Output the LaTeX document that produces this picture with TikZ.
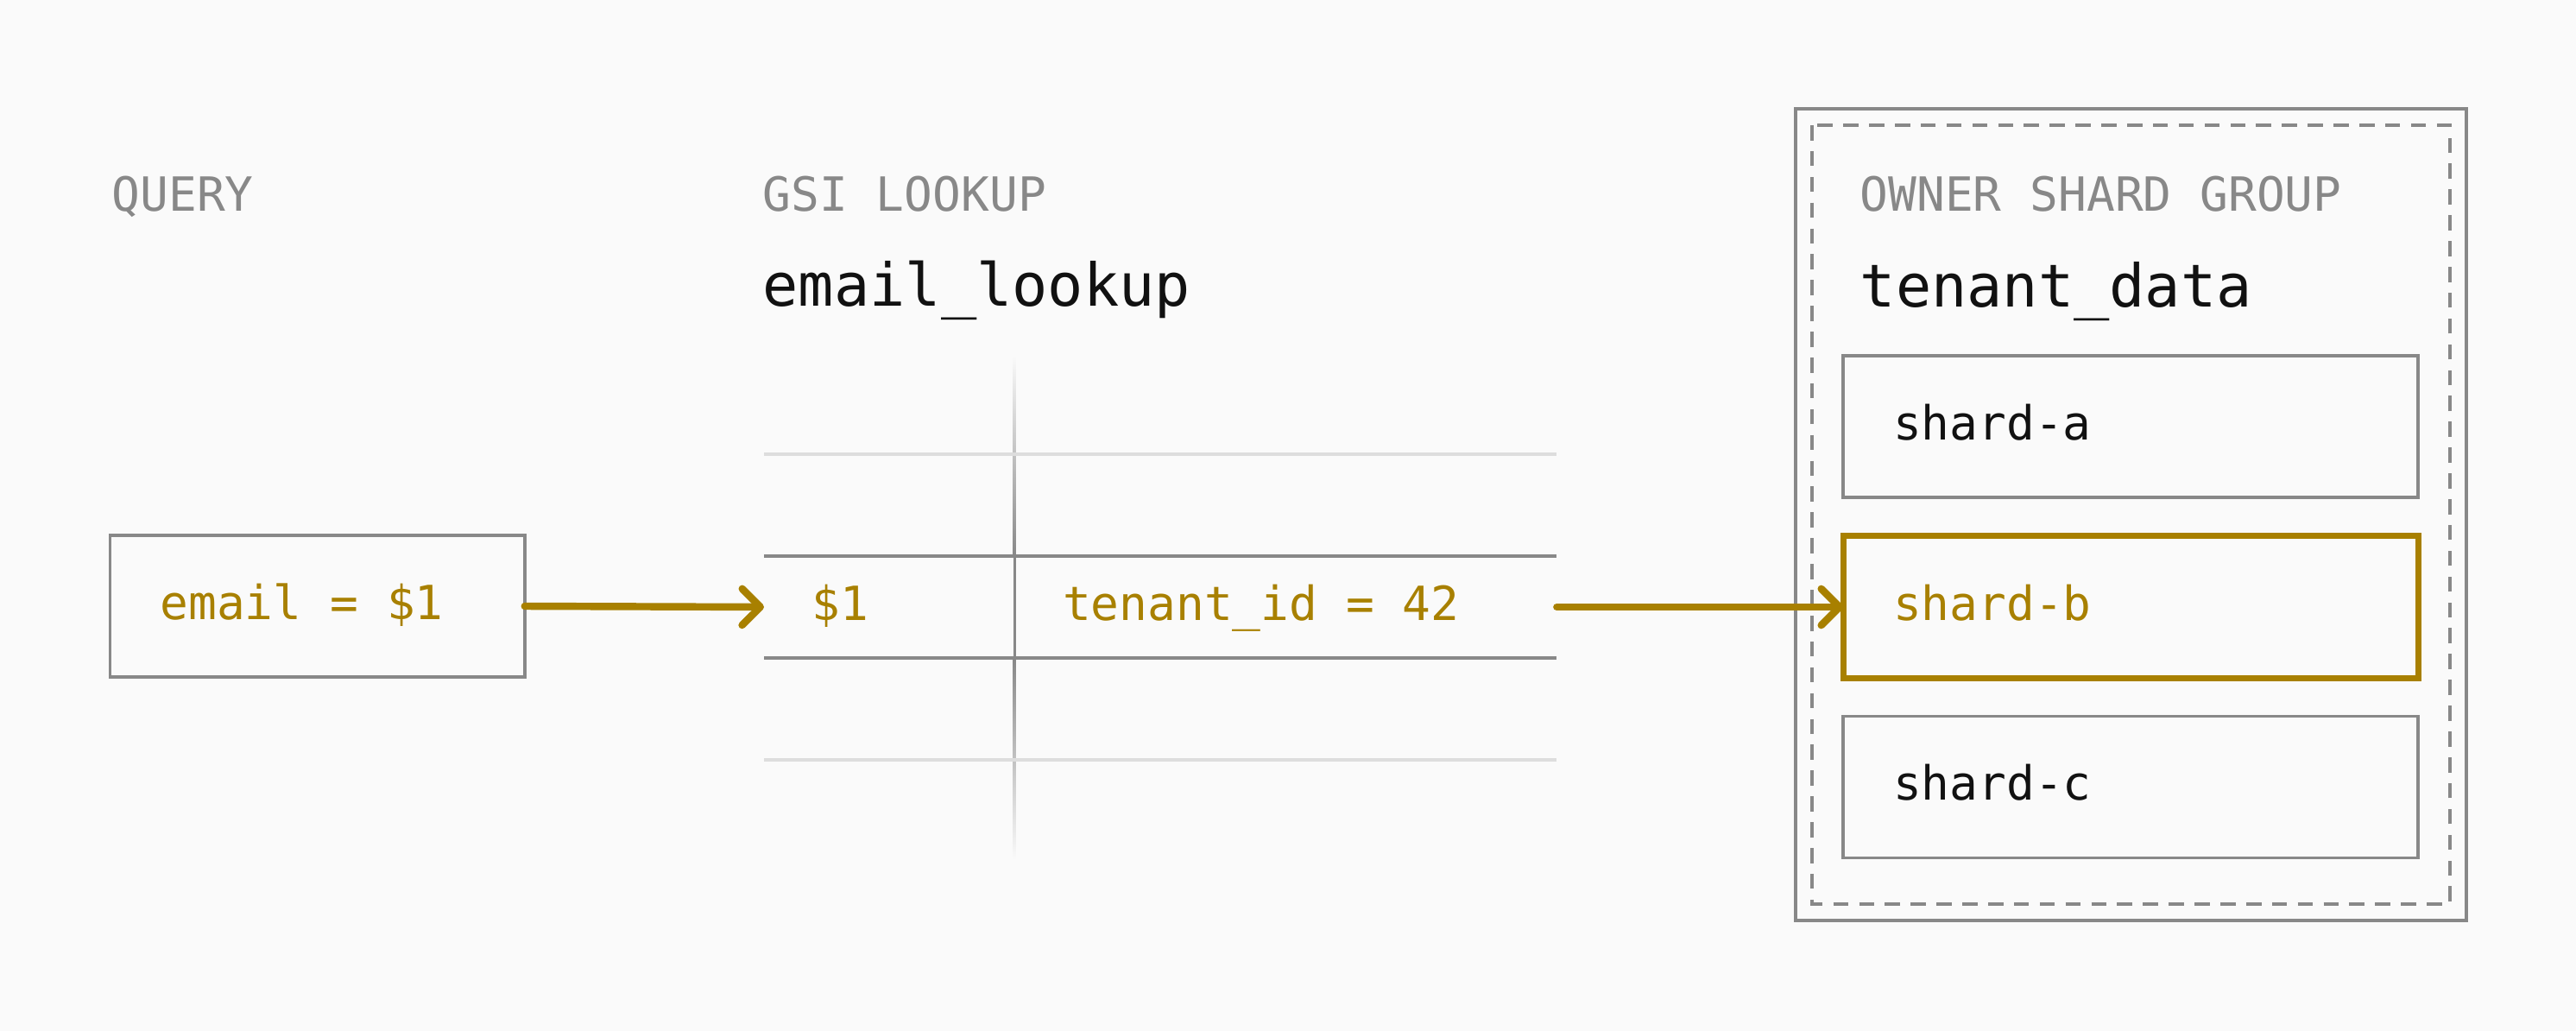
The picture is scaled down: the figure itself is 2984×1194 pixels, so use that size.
\documentclass[tikz,border=0pt]{standalone}
\usepackage{fontspec}
\setmonofont{DejaVu Sans Mono}
\usetikzlibrary{arrows.meta}
\definecolor{bgcol}{HTML}{FAFAFA}
\definecolor{boxgray}{HTML}{888888}
\definecolor{rulegray}{HTML}{DDDDDD}
\definecolor{gold}{HTML}{A88000}
\definecolor{ink}{HTML}{111111}

\begin{document}
\begin{tikzpicture}[x=0.01cm,y=-0.01cm,
    every node/.style={font=\ttfamily\fontsize{15.5}{18}\selectfont},
    grouplabel/.style={anchor=base west, inner sep=0pt, text=boxgray},
    tablename/.style={anchor=base west, inner sep=0pt, text=ink,
      font=\ttfamily\fontsize{19.5}{23}\selectfont},
    cell/.style={draw=boxgray, line width=1.1pt, anchor=west, outer sep=0pt,
      minimum height=1.64cm, inner xsep=0.58cm, text height=8.8pt,
      text depth=0pt, align=flush left, text=ink},
    flow/.style={gold, line width=2.4pt, line cap=round,
      -{Straight Barb[length=6pt,width=12pt,round]}}]
  \useasboundingbox (0,0) rectangle (2984,1194);
  \fill[bgcol] (0,0) rectangle (2984,1194);

  % column labels
  \node[grouplabel] (querylabel) at (129,245) {QUERY};
  \node[grouplabel] (gsilabel) at (883,245) {GSI LOOKUP};
  \node[tablename] (gsiname) at (883,354) {email\_lookup};
  \node[grouplabel] (ownerlabel) at (2154,245) {OWNER SHARD GROUP};
  \node[tablename] (ownername) at (2154,356) {tenant\_data};

  % query
  \node[cell, text width=3.64cm, text=gold] (query) at (127.5,702) {email = \$1};

  % index table
  \shade[top color=bgcol, bottom color=boxgray] (1173.5,411) rectangle (1176.5,644);
  \fill[boxgray] (1173.5,644) rectangle (1176.5,762);
  \shade[top color=boxgray, bottom color=bgcol] (1173.5,762) rectangle (1176.5,996);
  \foreach \y/\c in {526/rulegray,644/boxgray,762/boxgray,880/rulegray}
    \draw[\c, line width=0.9pt] (885,\y) -- (1803,\y);
  \node[cell, draw=none, inner xsep=0.555cm, text=gold] (key) at (885,703) {\$1};
  \node[cell, draw=none, text width=5.16cm, inner xsep=0.56cm, text=gold]
    (val) at (1175,703) {tenant\_id = 42};

  % shard group
  \draw[boxgray, line width=1.1pt] (2080,126) rectangle (2857,1066);
  \draw[boxgray, line width=1.1pt, dash pattern=on 5pt off 3.5pt]
    (2099,145) rectangle (2838,1047);
  \node[cell, text width=5.5cm] (sharda) at (2135,494) {shard-a};
  \node[cell, text width=5.5cm, draw=gold, line width=2pt, text=gold]
    (shardb) at (2135,703) {shard-b};
  \node[cell, text width=5.5cm] (shardc) at (2135,911.5) {shard-c};

  % lookup path
  \draw[flow] (query.east) -- (key.west);
  \draw[flow] (val.east) -- (shardb.west);
\end{tikzpicture}
\end{document}
